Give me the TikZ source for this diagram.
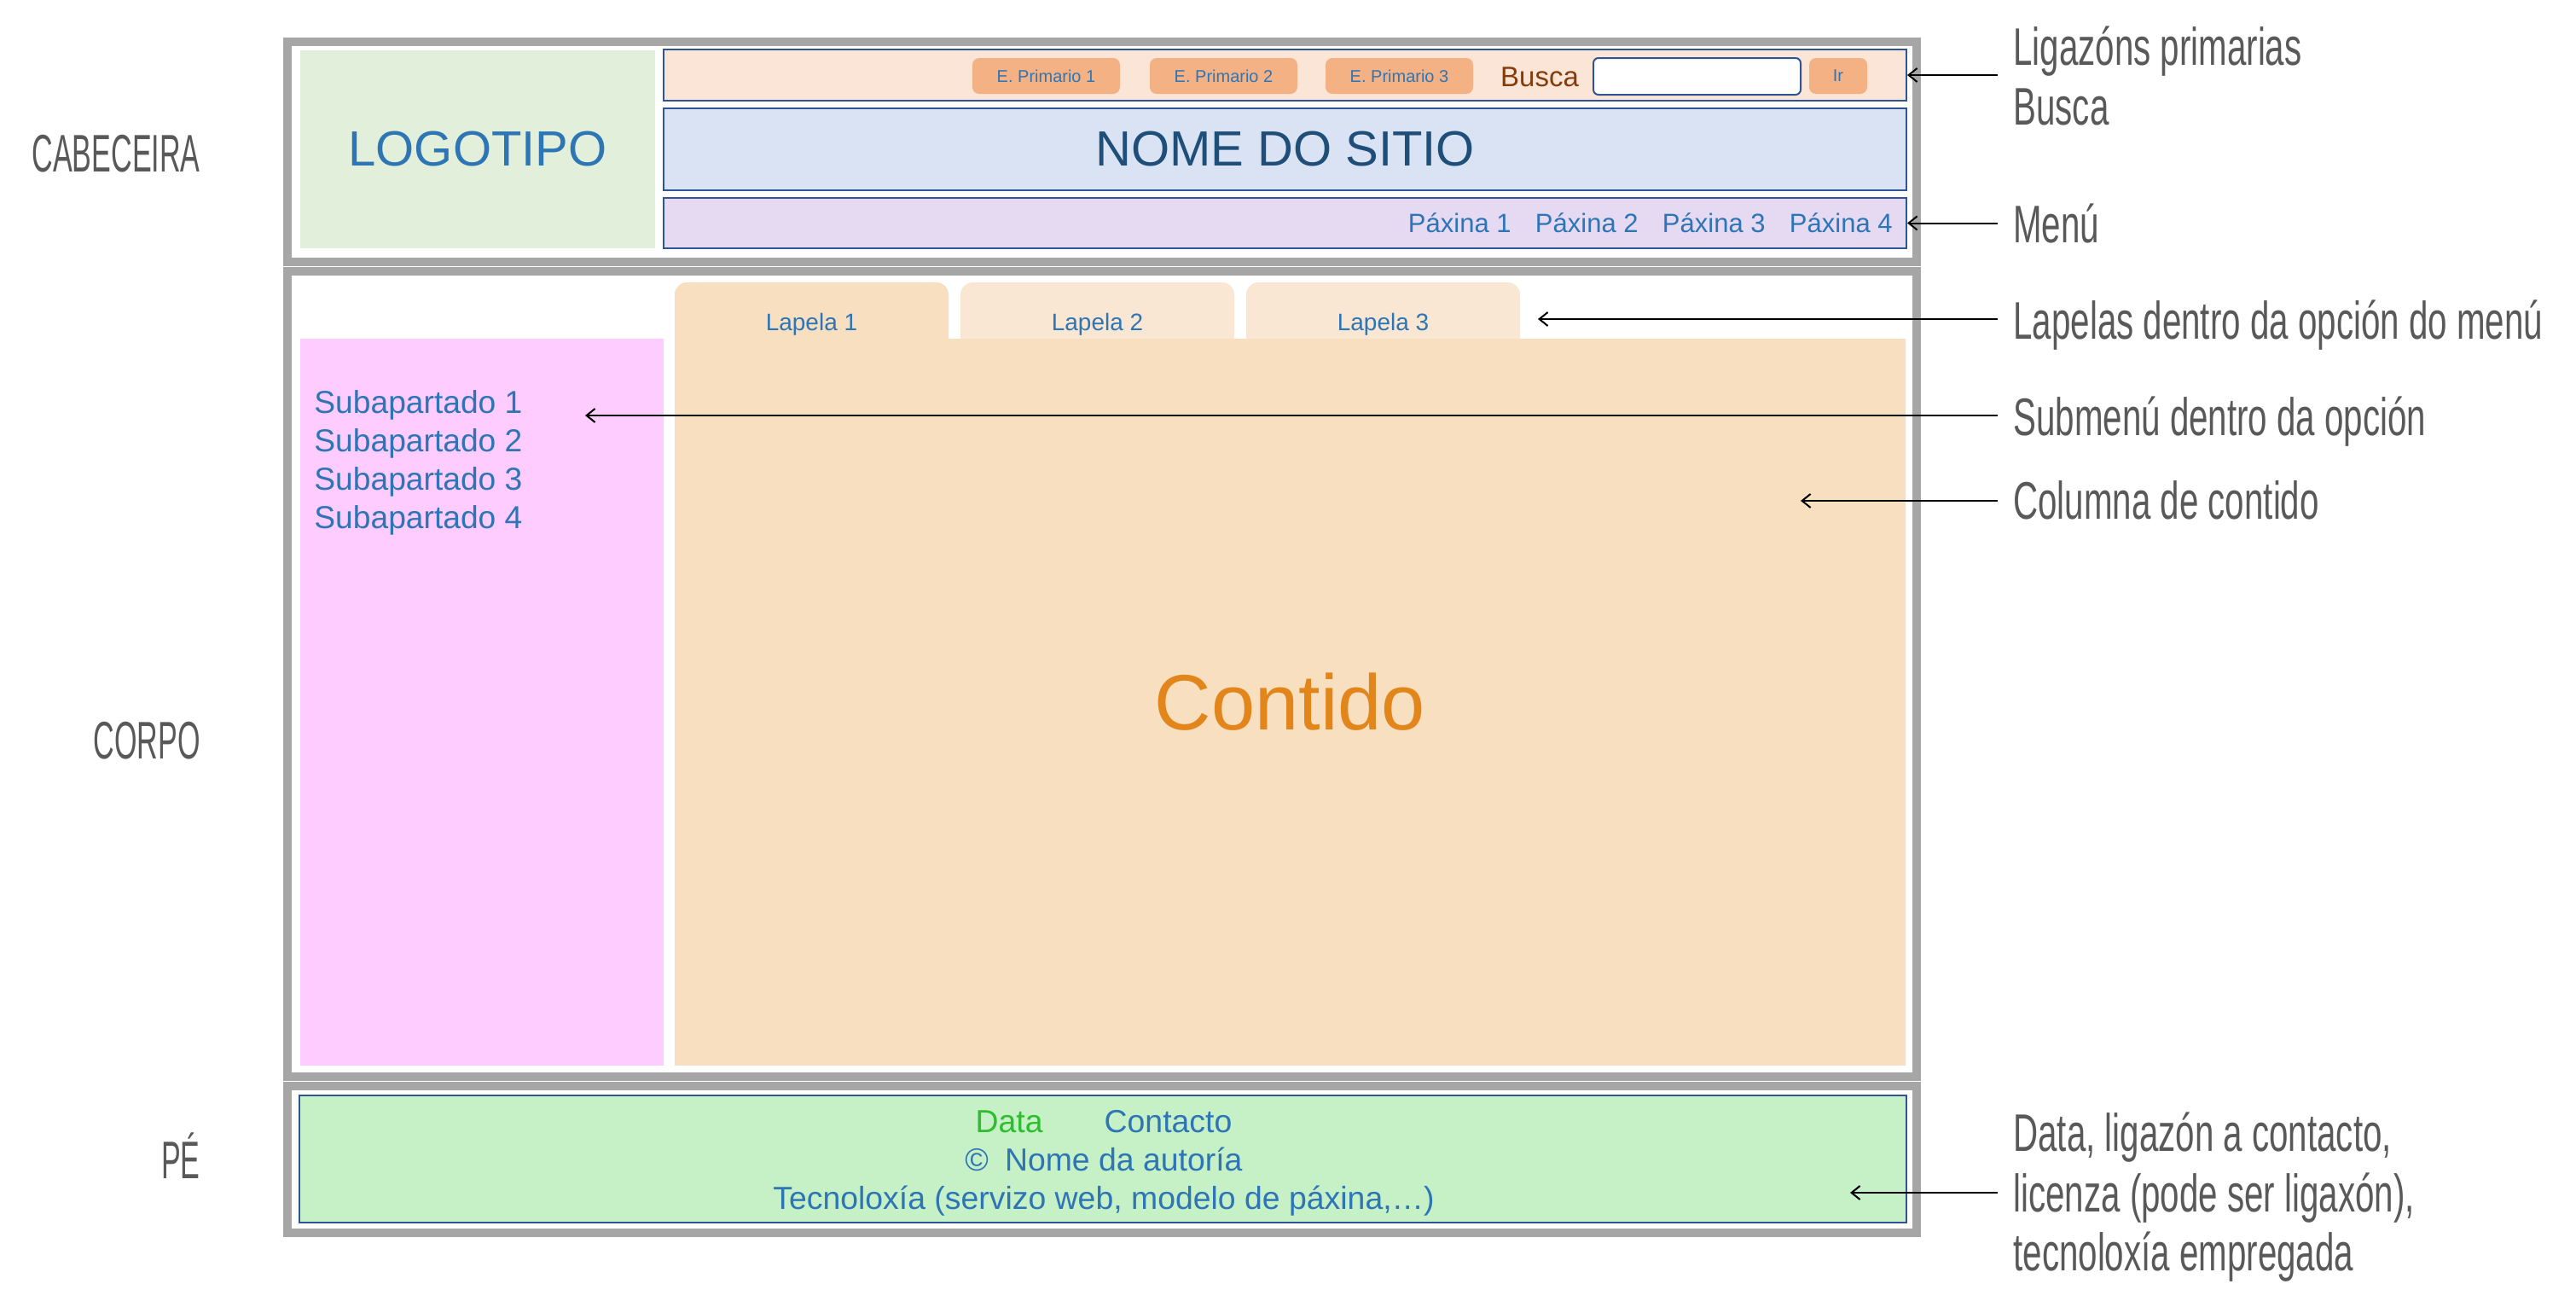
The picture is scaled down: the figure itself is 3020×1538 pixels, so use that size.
\documentclass[tikz,border=0pt]{standalone}
\usepackage{fontspec}
\setmainfont{Liberation Sans}
\newfontfamily\notefont[FakeStretch=0.65]{Liberation Sans}
\newfontfamily\partfont[FakeStretch=0.55]{Liberation Sans}
\usetikzlibrary{fit,arrows.meta}

\definecolor{framegray}{HTML}{A6A6A6}
\definecolor{logogreen}{HTML}{E2EFDA}
\definecolor{barblue}{HTML}{2F5597}
\definecolor{toppink}{HTML}{FBE5D6}
\definecolor{namebg}{HTML}{DAE3F3}
\definecolor{menubg}{HTML}{E6D9F2}
\definecolor{btnorange}{HTML}{F4B183}
\definecolor{subpink}{HTML}{FFCCFF}
\definecolor{contbg}{HTML}{F8DFC0}
\definecolor{tabbg}{HTML}{FAE7D3}
\definecolor{footgreen}{HTML}{C6F0C6}
\definecolor{linkblue}{HTML}{2E75B6}
\definecolor{namedark}{HTML}{1F4E79}
\definecolor{buscabrown}{HTML}{843C0C}
\definecolor{datagreen}{HTML}{2EBD2E}
\definecolor{contorange}{HTML}{E2861C}
\definecolor{notegray}{HTML}{595959}

\begin{document}
\begin{tikzpicture}[x=0.5pt,y=-0.5pt,
        frame/.style={draw=framegray,line width=5pt,inner sep=0pt},
        panel/.style={inner sep=0pt},
        bar/.style={panel,draw=barblue,line width=1pt},
        button/.style={panel,fill=btnorange,rounded corners=4pt},
        tab/.style={panel,rounded corners=7pt},
        link/.style={inner sep=0pt,text=linkblue},
        note/.style={inner xsep=9pt,inner ysep=0pt,anchor=base west,text=notegray,
            font=\notefont\fontsize{31}{35.5}\selectfont},
        part/.style={inner sep=0pt,anchor=base east,text=notegray,
            font=\partfont\fontsize{31}{35.5}\selectfont},
        >={Straight Barb[length=5pt,width=8pt]}]
    \useasboundingbox (0,0) rectangle (3020,1538);

    % cabeceira
    \node[frame,fit={(337,49) (2247,307)}] (cabeceira) {};
    \node[panel,fill=logogreen,fit={(352,59) (768,291)}] (logo) {};
    \node[text=linkblue,font=\fontsize{29}{34}\selectfont] at (logo) {LOGOTIPO};
    \node[bar,fill=toppink,fit={(778,58) (2235,118)}] (topbar) {};
    \foreach \i/\x in {1/1140,2/1348,3/1554} {
        \node[button,fit={(\x,68) (\x+173,110)}] (prim\i) {};
        \node[link,font=\fontsize{10}{12}\selectfont] at (prim\i) {E. Primario \i};
    }
    \node[inner sep=0pt,anchor=base,text=buscabrown,font=\fontsize{16.5}{20}\selectfont] (buscatxt) at (1805,101) {Busca};
    \node[panel,fill=white,draw=barblue,line width=1pt,rounded corners=3pt,fit={(1868,68) (2111,111)}] (buscabox) {};
    \node[button,fit={(2121,68) (2189,110)}] (ir) {};
    \node[link,font=\fontsize{10}{12}\selectfont] at (ir) {Ir};
    \node[bar,fill=namebg,fit={(778,127) (2235,223)}] (namebar) {};
    \node[text=namedark,font=\fontsize{29}{34}\selectfont] at (namebar) {NOME DO SITIO};
    \node[bar,fill=menubg,fit={(778,232) (2235,291)}] (menubar) {};
    \foreach \i in {1,...,4}
        \node[link,anchor=base east,font=\fontsize{15.5}{18}\selectfont] (pax\i) at (1623+149*\i,272) {Páxina \i};

    % corpo
    \node[frame,fit={(337,318) (2247,1262)}] (corpo) {};
    \node[panel,fill=subpink,fit={(352,397) (778,1249)}] (submenu) {};
    \foreach \i in {1,...,4}
        \node[link,anchor=base west,font=\fontsize{18.6}{22}\selectfont] (sub\i) at (368,439+45*\i) {Subapartado \i};
    \foreach \i/\x/\c in {1/791/contbg,2/1126/tabbg,3/1461/tabbg} {
        \node[tab,fill=\c,fit={(\x,331) (\x+321,420)}] (tab\i) {};
        \node[link,anchor=base,font=\fontsize{14}{17}\selectfont] (lapela\i) at (\x+160.5,387) {Lapela \i};
    }
    \node[panel,fill=contbg,fit={(791,397) (2234,1249)}] (content) {};
    \node[text=contorange,font=\fontsize{46}{55}\selectfont] at (content) {Contido};

    % pé
    \node[frame,fit={(337,1273) (2247,1445)}] (pe) {};
    \node[bar,fill=footgreen,fit={(351,1284) (2235,1433)}] (footer) {};
    \node[link,anchor=base,font=\fontsize{18.7}{22}\selectfont] (foot1) at (1294,1327) {\textcolor{datagreen}{Data}\hspace{36pt}Contacto};
    \node[link,anchor=base,font=\fontsize{18.7}{22}\selectfont] (foot2) at (1294,1372) {©\hspace{9.5pt}Nome da autoría};
    \node[link,anchor=base,font=\fontsize{18.7}{22}\selectfont] (foot3) at (1294,1417) {Tecnoloxía (servizo web, modelo de páxina,…)};

    % rótulos
    \node[part] (labCab) at (235,201) {CABECEIRA};
    \node[part] (labCorpo) at (235,889) {CORPO};
    \node[part] (labPe) at (235,1381) {PÉ};

    \node[note] (notePrim) at (2342,76) {Ligazóns primarias};
    \node[note] (noteBusca) at (2342,146) {Busca};
    \node[note] (noteMenu) at (2342,284) {Menú};
    \node[note] (noteTab) at (2342,397) {Lapelas dentro da opción do menú};
    \node[note] (noteSub) at (2342,510) {Submenú dentro da opción};
    \node[note] (noteCont) at (2342,608) {Columna de contido};
    \node[note] (noteFoot1) at (2342,1349) {Data, ligazón a contacto,};
    \node[note] (noteFoot2) at (2342,1420) {licenza (pode ser ligaxón),};
    \node[note] (noteFoot3) at (2342,1489) {tecnoloxía empregada};

    \coordinate (tabTip) at (1803,374);
    \coordinate (subTip) at (686,487);
    \coordinate (contTip) at (2111,587);
    \coordinate (footTip) at (2169,1398);

    \path[->,line width=1pt]
        (notePrim.west |- topbar.east) edge (topbar.east)
        (noteMenu.west |- menubar.east) edge (menubar.east)
        (noteTab.west |- tabTip) edge (tabTip)
        (noteSub.west |- subTip) edge (subTip)
        (noteCont.west |- contTip) edge (contTip)
        (noteFoot2.west |- footTip) edge (footTip);
\end{tikzpicture}
\end{document}
